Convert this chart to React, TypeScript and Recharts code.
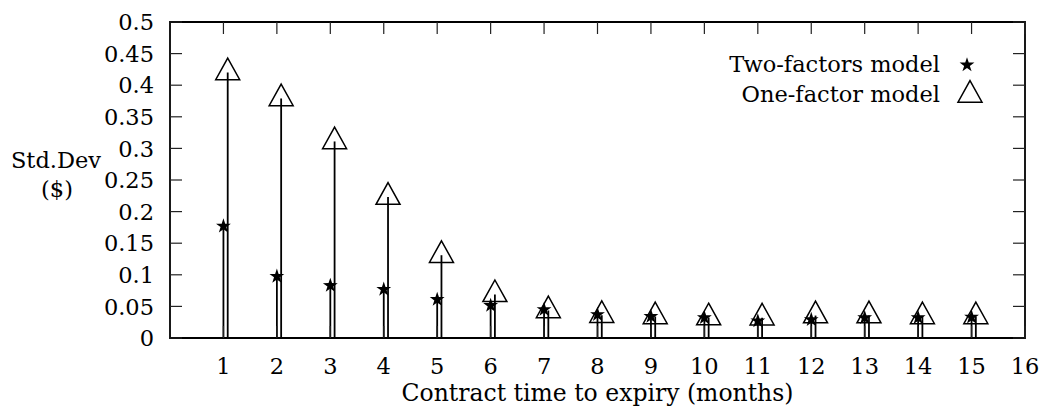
import React from 'react';
import { ScatterChart, Scatter, XAxis, YAxis, ErrorBar, Legend, Label, ReferenceArea } from 'recharts';

const months = [1, 2, 3, 4, 5, 6, 7, 8, 9, 10, 11, 12, 13, 14, 15];
const twoFactors = [0.177, 0.0975, 0.083, 0.077, 0.061, 0.0515, 0.045, 0.037, 0.034, 0.032, 0.027, 0.029, 0.032, 0.032, 0.033];
const oneFactor = [0.42, 0.379, 0.311, 0.223, 0.131, 0.069, 0.0435, 0.036, 0.034, 0.0323, 0.032, 0.0355, 0.0355, 0.034, 0.034];
const xTicks = [1, 2, 3, 4, 5, 6, 7, 8, 9, 10, 11, 12, 13, 14, 15, 16];
const yTicks = [0, 0.05, 0.1, 0.15, 0.2, 0.25, 0.3, 0.35, 0.4, 0.45, 0.5];
const ONE_FACTOR_SHIFT = 0.08;

const twoData = months.map((m, i) => ({ x: m, y: twoFactors[i], err: [twoFactors[i], 0] }));
const oneData = months.map((m, i) => ({ x: m + ONE_FACTOR_SHIFT, y: oneFactor[i], err: [oneFactor[i], 0] }));

const CHART_W = 1042;
const CHART_H = 409;
const MARGIN = { top: 22, right: 17, bottom: 0, left: 0 };
const Y_AXIS_W = 170;
const X_AXIS_H = 71;
const PLOT_TOP = MARGIN.top;
const PLOT_RIGHT = CHART_W - MARGIN.right;

const FONT = '"DejaVu Serif", serif';
const FS = 22.5;
const INK = '#000';
const TICK_LEN = 12;
const TICK_STROKE = '#222';

const starPoints = (cx: number, cy: number, R = 7.8, r = 3) => {
  const pts: string[] = [];
  for (let i = 0; i < 10; i++) {
    const rad = i % 2 === 0 ? R : r;
    const a = -Math.PI / 2 + (i * Math.PI) / 5;
    pts.push(`${cx + rad * Math.cos(a)},${cy + rad * Math.sin(a)}`);
  }
  return pts.join(' ');
};

const trianglePoints = (cx: number, cy: number) =>
  `${cx},${cy - 14.4} ${cx + 12},${cy + 7.2} ${cx - 12},${cy + 7.2}`;

const StarShape = (props: any) => {
  const { cx, cy } = props;
  if (cx == null || cy == null) return <g />;
  return <polygon points={starPoints(cx, cy)} fill={INK} />;
};

const TriangleShape = (props: any) => {
  const { cx, cy } = props;
  if (cx == null || cy == null) return <g />;
  return <polygon points={trianglePoints(cx, cy)} fill="none" stroke={INK} strokeWidth={1.5} />;
};

const fmtY = (v: number) => String(Number(v.toFixed(2)));

// left ticks: inward tick on the left frame and mirrored inward tick on the right frame
const LeftTick = (props: any) => {
  const { x, y, payload } = props;
  return (
    <g>
      <line x1={x} x2={x + TICK_LEN} y1={y} y2={y} stroke={TICK_STROKE} strokeWidth={1.2} />
      <line x1={PLOT_RIGHT} x2={PLOT_RIGHT - TICK_LEN} y1={y} y2={y} stroke={TICK_STROKE} strokeWidth={1.2} />
      <text x={x - 16} y={y} dy="0.36em" textAnchor="end" fontFamily={FONT} fontSize={FS} fill={INK}>
        {fmtY(payload.value)}
      </text>
    </g>
  );
};

// bottom ticks: inward tick on the bottom frame and mirrored inward tick on the top frame
const BottomTick = (props: any) => {
  const { x, y, payload } = props;
  return (
    <g>
      <line x1={x} x2={x} y1={y} y2={y - TICK_LEN} stroke={TICK_STROKE} strokeWidth={1.2} />
      <line x1={x} x2={x} y1={PLOT_TOP} y2={PLOT_TOP + TICK_LEN} stroke={TICK_STROKE} strokeWidth={1.2} />
      <text x={x} y={y + 36} textAnchor="middle" fontFamily={FONT} fontSize={FS} fill={INK}>
        {payload.value}
      </text>
    </g>
  );
};

const LegendContent = () => (
  <svg width={330} height={75} style={{ overflow: 'visible' }}>
    <text x={240} y={32} textAnchor="end" fontFamily={FONT} fontSize={FS} fill={INK}>Two-factors model</text>
    <polygon points={starPoints(267, 25)} fill={INK} />
    <text x={240} y={62} textAnchor="end" fontFamily={FONT} fontSize={FS} fill={INK}>One-factor model</text>
    <polygon points={trianglePoints(270, 55)} fill="none" stroke={INK} strokeWidth={1.5} />
  </svg>
);

const YLabel = () => (
  <g>
    <text x={56} y={168} textAnchor="middle" fontFamily={FONT} fontSize={FS} fill={INK}>Std.Dev</text>
    <text x={57} y={197} textAnchor="middle" fontFamily={FONT} fontSize={FS} fill={INK}>($)</text>
  </g>
);

export default function App() {
  return (
    <div style={{ position: 'absolute', left: 0, top: 0, width: CHART_W, height: CHART_H, background: '#fff' }}>
      <ScatterChart width={CHART_W} height={CHART_H} margin={MARGIN}>
        <XAxis
          dataKey="x"
          type="number"
          domain={[0, 16]}
          ticks={xTicks}
          interval={0}
          orientation="bottom"
          height={X_AXIS_H}
          tickSize={0}
          tickMargin={0}
          tickLine={false}
          axisLine={false}
          tick={<BottomTick />}
          allowDataOverflow
        >
          <Label value="Contract time to expiry (months)" position="insideBottom" offset={8} fontFamily={FONT} fontSize={23.5} fill={INK} />
        </XAxis>
        <YAxis
          dataKey="y"
          type="number"
          domain={[0, 0.5]}
          ticks={yTicks}
          interval={0}
          orientation="left"
          width={Y_AXIS_W}
          tickSize={0}
          tickMargin={0}
          tickLine={false}
          axisLine={false}
          tick={<LeftTick />}
          allowDataOverflow
        >
          <Label content={<YLabel />} />
        </YAxis>
        <ReferenceArea x1={0} x2={16} y1={0} y2={0.5} fill="none" fillOpacity={0} stroke={INK} strokeWidth={1.8} ifOverflow="visible" />
        <Legend
          layout="horizontal"
          align="center"
          verticalAlign="middle"
          wrapperStyle={{ position: 'absolute', left: 700, top: 40, width: 330, height: 75 }}
          content={<LegendContent />}
        />
        <Scatter
          name="Two-factors model"
          data={twoData}
          shape={<StarShape />}
          isAnimationActive={false}
        >
          <ErrorBar dataKey="err" direction="y" width={0} stroke={INK} strokeWidth={1.8} isAnimationActive={false} />
        </Scatter>
        <Scatter
          name="One-factor model"
          data={oneData}
          shape={<TriangleShape />}
          isAnimationActive={false}
        >
          <ErrorBar dataKey="err" direction="y" width={0} stroke={INK} strokeWidth={1.8} isAnimationActive={false} />
        </Scatter>
      </ScatterChart>
    </div>
  );
}
